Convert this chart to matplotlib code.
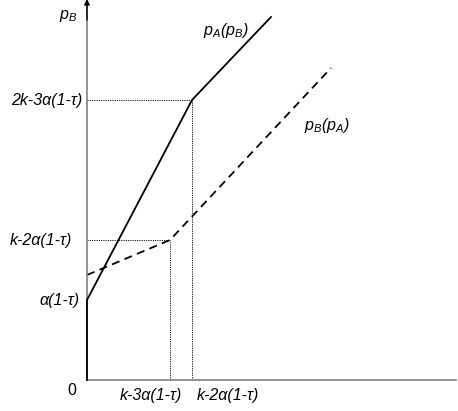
import matplotlib
matplotlib.use("Agg")
import matplotlib.pyplot as plt

# Data (abstract units; origin at 0,0)
solid_x = [0, 0, 105, 184]       # p_A(p_B) reaction curve
solid_y = [0, 80, 280, 363]
dashed_x = [0, 83, 244]          # p_B(p_A) reaction curve
dashed_y = [105, 140, 312]
x_ticks = [83, 105]
x_tick_labels = ["k-3α(1-τ)", "k-2α(1-τ)"]
y_ticks = [80, 140, 280]
y_tick_labels = ["α(1-τ)", "k-2α(1-τ)", "2k-3α(1-τ)"]

plt.rcParams['mathtext.fontset'] = 'custom'
plt.rcParams['mathtext.it'] = 'Liberation Sans:italic'
plt.rcParams['mathtext.rm'] = 'Liberation Sans:italic'
plt.rcParams['font.family'] = ['Liberation Sans', 'DejaVu Sans']

W, H = 458, 411
fig = plt.figure(figsize=(W / 100, H / 100), dpi=100)
ox, oy = 87, 380
ax = fig.add_axes([ox / W, (H - oy) / H, (W - 2 - ox) / W, (oy - 2) / H])
ax.set_xlim(0, W - 2 - ox)
ax.set_ylim(0, oy - 2)
for s in ['top', 'right']:
    ax.spines[s].set_visible(False)
for s in ['left', 'bottom']:
    ax.spines[s].set_color('#808080')
    ax.spines[s].set_linewidth(1.2)
ax.set_xticks([])
ax.set_yticks([])
ax.patch.set_alpha(0)

# arrow on y axis
ax.annotate('', xy=(0, oy + 1), xytext=(0, oy - 20), xycoords='data',
            arrowprops=dict(arrowstyle='-|>', color='black', lw=1.0,
                            mutation_scale=8, shrinkA=0, shrinkB=0),
            annotation_clip=False)

# guide lines
for xv, yv in [(105, 280), (83, 140)]:
    ax.plot([0, xv], [yv, yv], color='black', lw=0.6, ls=(0, (1.5, 1.2)))
    ax.plot([xv, xv], [0, yv], color='black', lw=0.6, ls=(0, (1.5, 1.2)))

ax.plot(solid_x, solid_y, color='black', lw=1.3, solid_joinstyle='miter',
        clip_on=False, zorder=5)
ax.plot(dashed_x, dashed_y, color='black', lw=1.3, ls=(0, (4.5, 3)), clip_on=False)

fs = 11.5
y_offsets = [-7, -15, -5]
for yv, lab, off in zip(y_ticks, y_tick_labels, y_offsets):
    ax.text(off, yv, lab, ha='right', va='center', fontsize=fs, style='italic')
ax.text(-15, -10, "0", ha='center', va='center', fontsize=fs)
ax.text(64, -15, x_tick_labels[0], ha='center', va='center', fontsize=fs, style='italic')
ax.text(110, -15, x_tick_labels[1], ha='left', va='center', fontsize=fs, style='italic')

ax.text(-19, 364, r'$p_B$', ha='center', va='center', fontsize=fs)
ax.text(139, 350, r'$p_A(p_B)$', ha='center', va='center', fontsize=fs)
ax.text(240, 255, r'$p_B(p_A)$', ha='center', va='center', fontsize=fs)

fig.savefig('out.png', dpi=100)
